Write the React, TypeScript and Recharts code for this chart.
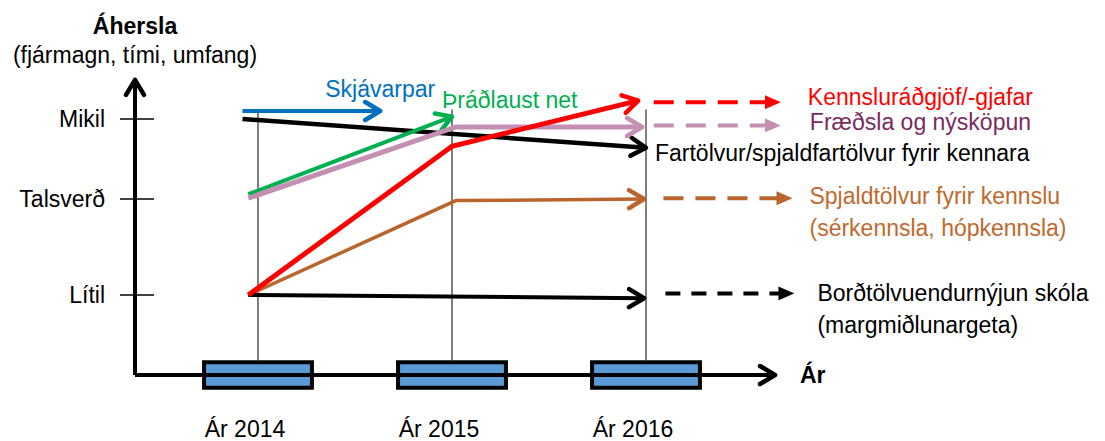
import { LineChart, Line, XAxis, YAxis, ReferenceLine, ReferenceArea, ReferenceDot } from "recharts";

const FONT = "'Liberation Sans', Arial, sans-serif";
const FS = 23;

// Time axis (years) and emphasis levels
const YEARS = [2014, 2015, 2016];
const YEAR_LABELS = ["Ár 2014", "Ár 2015", "Ár 2016"];
const LEVELS = [1, 2.2, 3.2];
const LEVEL_LABELS = ["Lítil", "Talsverð", "Mikil"];

// Solid trends, x = year, y = emphasis level
const skjavarpar = [{ x: 2013.92, y: 3.3 }, { x: 2014.63, y: 3.3 }];
const fartolvur = [{ x: 2013.92, y: 3.2 }, { x: 2016.0, y: 2.84 }];
const thradlaust = [{ x: 2013.95, y: 2.26 }, { x: 2015.0, y: 3.23 }];
const fraedsla = [{ x: 2013.95, y: 2.21 }, { x: 2015.02, y: 3.1 }, { x: 2015.98, y: 3.1 }];
const radgjof = [{ x: 2013.95, y: 1.0 }, { x: 2015.0, y: 2.86 }, { x: 2015.96, y: 3.43 }];
const spjaldtolvur = [{ x: 2013.95, y: 1.0 }, { x: 2015.02, y: 2.18 }, { x: 2015.99, y: 2.2 }];
const bordtolvur = [{ x: 2013.95, y: 1.0 }, { x: 2015.99, y: 0.96 }];

// Dashed continuations after 2016
const radgjofNext = [{ x: 2016.04, y: 3.41 }, { x: 2016.69, y: 3.41 }];
const fraedslaNext = [{ x: 2016.04, y: 3.12 }, { x: 2016.69, y: 3.12 }];
const spjaldNext = [{ x: 2016.09, y: 2.21 }, { x: 2016.75, y: 2.21 }];
const bordNext = [{ x: 2016.1, y: 1.02 }, { x: 2016.76, y: 1.02 }];

// axis frame (origin, arrow tips)
const X_START = 2013.366;
const X_END = 2017.5;
const X_TIP = 2016.665;
const Y_TIP = 3.69;
const GRID_TOP = 3.32;
const BOX_HALF_W = 0.278;
const BOX_HALF_H = 0.16;

const BLUE = "#0070c0";
const GREEN = "#00b050";
const PINK = "#c38fb3";
const RED = "#ff0000";
const BROWN = "#b9652d";

const solid = [
  { key: "skj", data: skjavarpar, color: BLUE, width: 4 },
  { key: "far", data: fartolvur, color: "#000", width: 4.5 },
  { key: "thr", data: thradlaust, color: GREEN, width: 4 },
  { key: "fra", data: fraedsla, color: PINK, width: 5 },
  { key: "spj", data: spjaldtolvur, color: BROWN, width: 3.5 },
  { key: "bor", data: bordtolvur, color: "#000", width: 4 },
  { key: "rad", data: radgjof, color: RED, width: 5 },
];

const dashed = [
  { key: "radN", data: radgjofNext, color: RED, dash: "20 12" },
  { key: "fraN", data: fraedslaNext, color: PINK, dash: "20 12" },
  { key: "spjN", data: spjaldNext, color: BROWN, dash: "20 12" },
  { key: "borN", data: bordNext, color: "#000", dash: "15 11" },
];

const last = (d: { x: number; y: number }[]) => d[d.length - 1];

const labels = [
  { at: last(skjavarpar), lines: ["Skjávarpar"], color: BLUE, dx: 0, dy: -22, anchor: "middle" },
  { at: last(thradlaust), lines: ["Þráðlaust net"], color: GREEN, dx: -10, dy: -17, anchor: "start" },
  { at: last(fartolvur), lines: ["Fartölvur/spjaldfartölvur fyrir kennara"], color: "#000", dx: 9, dy: 5, anchor: "start" },
  { at: last(radgjofNext), lines: ["Kennsluráðgjöf/-gjafar"], color: RED, dx: 28, dy: -5, anchor: "start" },
  { at: last(fraedslaNext), lines: ["Fræðsla og nýsköpun"], color: "#7a2b5e", dx: 30, dy: -3, anchor: "start" },
  { at: last(spjaldNext), lines: ["Spjaldtölvur fyrir kennslu", "(sérkennsla, hópkennsla)"], color: "#c0692e", dx: 18, dy: -2, anchor: "start" },
  { at: last(bordNext), lines: ["Borðtölvuendurnýjun skóla", "(margmiðlunargeta)"], color: "#000", dx: 24, dy: 0, anchor: "start" },
];

const idOf = (c: string) => c.replace("#", "");

function Markers() {
  const colors = [BLUE, GREEN, PINK, RED, BROWN, "#000"];
  return (
    <defs>
      {colors.map((c) => (
        <marker key={"o" + c} id={"open-" + idOf(c)} markerUnits="userSpaceOnUse" viewBox="0 0 24 24"
          markerWidth={24} markerHeight={24} refX={20} refY={12} orient="auto">
          <path d="M5,3 L20,12 L5,21" fill="none" stroke={c} strokeWidth={4.5} strokeLinecap="round" strokeLinejoin="round" />
        </marker>
      ))}
      {colors.map((c) => (
        <marker key={"t" + c} id={"tri-" + idOf(c)} markerUnits="userSpaceOnUse" viewBox="0 0 16 14"
          markerWidth={16} markerHeight={14} refX={15} refY={7} orient="auto">
          <path d="M0,0 L16,7 L0,14 Z" fill={c} />
        </marker>
      ))}
    </defs>
  );
}

function YTick({ x, y, payload }: any) {
  const i = LEVELS.indexOf(payload.value);
  return (
    <g>
      <line x1={x - 15} y1={y} x2={x + 19} y2={y} stroke="#000" strokeWidth={1.5} />
      <text x={x - 30} y={y} dy="0.35em" textAnchor="end" fontFamily={FONT} fontSize={FS} fill="#000">
        {LEVEL_LABELS[i]}
      </text>
    </g>
  );
}

function XTick({ x, y, payload }: any) {
  const i = YEARS.indexOf(payload.value);
  return (
    <text x={x - 13} y={y + 22} textAnchor="middle" fontFamily={FONT} fontSize={FS} fill="#000">
      {YEAR_LABELS[i]}
    </text>
  );
}

const arrowLine = (p: any) => (
  <line x1={p.x1} y1={p.y1} x2={p.x2} y2={p.y2} stroke="#000" strokeWidth={4} markerEnd="url(#open-000)" />
);

export default function App() {
  return (
    <div style={{ position: "absolute", left: 0, top: 0, width: 1105, height: 441, background: "#fff" }}>
      <LineChart width={1105} height={441} margin={{ top: 55, right: 168, bottom: 0, left: 0 }}>
        <Markers />
        <XAxis type="number" dataKey="x" domain={[X_START, X_END]} allowDataOverflow ticks={YEARS}
          axisLine={false} tickLine={false} tickSize={0} tickMargin={0} height={26} tick={<XTick />} />
        <YAxis type="number" dataKey="y" domain={[-0.5, 4]} allowDataOverflow ticks={LEVELS}
          axisLine={false} tickLine={false} tickSize={0} tickMargin={0} width={135} tick={<YTick />} />

        {/* axes */}
        <ReferenceLine segment={[{ x: X_START, y: 0 }, { x: X_TIP, y: 0 }]} shape={arrowLine} />
        <ReferenceLine segment={[{ x: X_START, y: 0 }, { x: X_START, y: Y_TIP }]} shape={arrowLine} />

        {/* year guides */}
        {YEARS.map((yr) => (
          <ReferenceLine key={"g" + yr} segment={[{ x: yr, y: GRID_TOP }, { x: yr, y: BOX_HALF_H }]}
            stroke="#2a2a2a" strokeWidth={1.2} />
        ))}
        {YEARS.map((yr) => (
          <ReferenceArea key={"b" + yr} x1={yr - BOX_HALF_W} x2={yr + BOX_HALF_W} y1={-BOX_HALF_H} y2={BOX_HALF_H}
            fill="#5b9bd5" fillOpacity={1} stroke="#000" strokeWidth={4} />
        ))}

        {dashed.map((s) => (
          <Line key={s.key} data={s.data} dataKey="y" stroke={s.color} strokeWidth={4} strokeDasharray={s.dash}
            dot={false} activeDot={false} isAnimationActive={false} markerEnd={`url(#tri-${idOf(s.color)})`} />
        ))}
        {solid.map((s) => (
          <Line key={s.key} data={s.data} dataKey="y" stroke={s.color} strokeWidth={s.width} type="linear"
            dot={false} activeDot={false} isAnimationActive={false} markerEnd={`url(#open-${idOf(s.color)})`} />
        ))}

        {labels.map((l, i) => (
          <ReferenceDot key={"l" + i} x={l.at.x} y={l.at.y} r={0}
            shape={(p: any) => (
              <text x={p.cx + l.dx} y={p.cy + l.dy} fontFamily={FONT} fontSize={FS} fill={l.color} textAnchor={l.anchor}>
                {l.lines.map((t, j) => (
                  <tspan key={j} x={p.cx + l.dx} dy={j === 0 ? "0.35em" : 32}>{t}</tspan>
                ))}
              </text>
            )} />
        ))}
        <ReferenceDot x={X_TIP} y={0} r={0}
          shape={(p: any) => (
            <text x={p.cx + 25} y={p.cy} dy="0.35em" fontFamily={FONT} fontSize={FS} fontWeight="bold">Ár</text>
          )} />

        {/* axis title */}
        <text x={135} y={34} textAnchor="middle" fontFamily={FONT} fontSize={FS} fontWeight="bold">Áhersla</text>
        <text x={135} y={63} textAnchor="middle" fontFamily={FONT} fontSize={FS}>(fjármagn, tími, umfang)</text>
      </LineChart>
    </div>
  );
}
